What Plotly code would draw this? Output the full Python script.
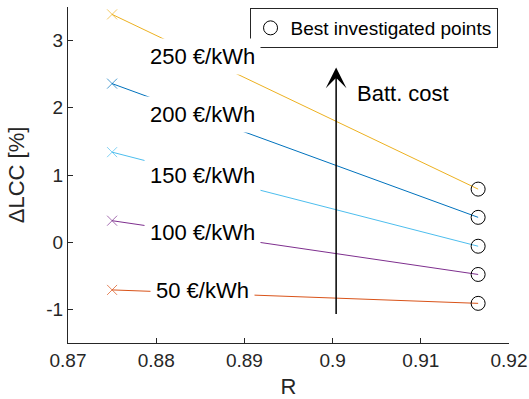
import plotly.graph_objects as go

# Data
R_points = [0.875, 0.9165]
cost_labels = ["50 €/kWh", "100 €/kWh", "150 €/kWh", "200 €/kWh", "250 €/kWh"]
lcc_50 = [-0.71, -0.91]
lcc_100 = [0.32, -0.48]
lcc_150 = [1.34, -0.06]
lcc_200 = [2.36, 0.37]
lcc_250 = [3.39, 0.79]
label_x = [0.8853, 0.8853, 0.8853, 0.8853, 0.8853]
label_y = [-0.72, 0.14, 1.00, 1.90, 2.76]
x_ticks = [0.87, 0.88, 0.89, 0.90, 0.91, 0.92]
x_ticktext = ["0.87", "0.88", "0.89", "0.9", "0.91", "0.92"]
y_ticks = [-1, 0, 1, 2, 3]
y_ticktext = ["-1", "0", "1", "2", "3"]

series = [lcc_50, lcc_100, lcc_150, lcc_200, lcc_250]
colors = ["#D95319", "#7E2F8E", "#4DBEEE", "#0072BD", "#EDB120"]

FONT = "Liberation Sans, Arial, Helvetica, sans-serif"
AX = "#262626"

fig = go.Figure()
for vals, col, name in zip(series, colors, cost_labels):
    fig.add_trace(go.Scatter(
        x=R_points, y=vals, mode="lines+markers", name=name, showlegend=False,
        line=dict(color=col, width=1),
        marker=dict(symbol="x-thin-open", size=[10, 0], color=col,
                    line=dict(color=col, width=1)),
        hoverinfo="skip",
    ))

fig.add_trace(go.Scatter(
    x=[R_points[1]] * len(series), y=[s[1] for s in series], mode="markers",
    name="Best investigated points",
    marker=dict(symbol="circle-open", size=14, color="black",
                line=dict(color="black", width=1)),
))

for lx, ly, txt in zip(label_x, label_y, cost_labels):
    fig.add_annotation(x=lx, y=ly, text=txt, showarrow=False,
                       font=dict(family=FONT, size=22, color="black"),
                       bgcolor="white", borderpad=5, xanchor="center", yanchor="middle")

# Arrow
fig.add_annotation(x=0.9004, y=2.60, ax=0.9004, ay=-1.09, xref="x", yref="y",
                   axref="x", ayref="y", text="", showarrow=True,
                   arrowhead=3, arrowsize=2.3, arrowwidth=1.5, arrowcolor="black")
fig.add_annotation(x=0.9025, y=2.22, text="Batt. cost", showarrow=False,
                   xanchor="left", yanchor="middle",
                   font=dict(family=FONT, size=22, color="black"))

fig.update_layout(
    width=529, height=399,
    margin=dict(l=68, r=20, t=7, b=56),
    paper_bgcolor="white", plot_bgcolor="white",
    font=dict(family=FONT, color=AX),
    legend=dict(x=0.974, y=0.997, xanchor="right", yanchor="top",
                bgcolor="white", bordercolor=AX, borderwidth=1,
                font=dict(family=FONT, size=19, color="black"),
                itemwidth=30),
    xaxis=dict(range=[0.87, 0.92], tickvals=x_ticks, ticktext=x_ticktext,
               automargin=False,
               showgrid=False, zeroline=False, showline=True, linecolor=AX, linewidth=1,
               ticks="inside", ticklen=5, tickcolor=AX,
               tickfont=dict(family=FONT, size=19, color=AX),
               title=dict(text="R", font=dict(family=FONT, size=22, color=AX))),
    yaxis=dict(range=[-1.5, 3.5], tickvals=y_ticks, ticktext=y_ticktext,
               automargin=False,
               showgrid=False, zeroline=False, showline=True, linecolor=AX, linewidth=1,
               ticks="inside", ticklen=5, tickcolor=AX,
               tickfont=dict(family=FONT, size=19, color=AX),
               title=dict(text="ΔLCC [%]", font=dict(family=FONT, size=22, color=AX))),
)

fig.write_html("out.html", config={"displayModeBar": False},
               post_script="document.body.style.margin='0';document.body.style.padding='0';")
